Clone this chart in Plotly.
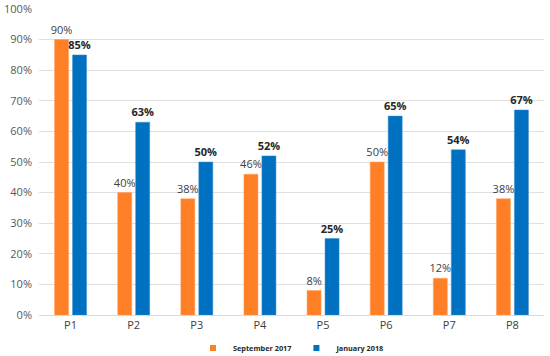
import plotly.graph_objects as go

categories = ["P1", "P2", "P3", "P4", "P5", "P6", "P7", "P8"]
sep_2017 = [90, 40, 38, 46, 8, 50, 12, 38]
jan_2018 = [85, 63, 50, 52, 25, 65, 54, 67]
sep_label = "September 2017"
jan_label = "January 2018"
y_ticks = [0, 10, 20, 30, 40, 50, 60, 70, 80, 90, 100]

FONT = "Open Sans, Liberation Sans, sans-serif"
ORANGE = "#FF7F27"
BLUE = "#0070C0"

fig = go.Figure()
fig.add_trace(go.Bar(
    x=categories, y=sep_2017, name=sep_label, showlegend=False,
    marker=dict(color=ORANGE, line=dict(color="#FFA05A", width=0.5)),
    text=[f"{v}%" for v in sep_2017], textposition="outside", constraintext="none",
    textfont=dict(family=FONT, size=11, color="#404040"),
    cliponaxis=False,
))
fig.add_trace(go.Bar(
    x=categories, y=jan_2018, name=jan_label, showlegend=False,
    marker=dict(color=BLUE, line=dict(color="#3A8FD0", width=0.5)),
    text=[f"<b>{v}%</b>" for v in jan_2018], textposition="outside", constraintext="none",
    textfont=dict(family=FONT, size=11, color="#262626"),
    cliponaxis=False,
))
# legend entries with small square swatches
for nm, col in [(sep_label, ORANGE), (jan_label, BLUE)]:
    fig.add_trace(go.Scatter(x=[None], y=[None], mode="markers", name=f"<b>{nm}</b>",
                             marker=dict(symbol="square", size=6, color=col)))

fig.update_layout(
    width=550, height=356,
    margin=dict(l=39, r=6, t=9, b=41, autoexpand=False),
    paper_bgcolor="white", plot_bgcolor="white",
    barmode="group", bargap=0.43, bargroupgap=0.22,
    font=dict(family=FONT, color="#595959"),
    showlegend=True,
    legend=dict(orientation="h", x=0.5, xanchor="center", y=-0.108, yanchor="middle",
                font=dict(family=FONT, size=7.3, color="#262626"),
                itemwidth=30, tracegroupgap=0, bgcolor="rgba(0,0,0,0)"),
)
fig.update_yaxes(range=[0, 100], tickvals=y_ticks, ticktext=[f"{v}%" for v in y_ticks],
                 showgrid=True, gridcolor="#E0E0E0", gridwidth=1,
                 zeroline=False, showline=False,
                 tickfont=dict(family=FONT, size=11, color="#595959"),
                 ticks="", ticklabelstandoff=6)
fig.update_xaxes(showline=True, linecolor="#D9D9D9", linewidth=1,
                 tickfont=dict(family=FONT, size=11, color="#404040"),
                 ticks="", showgrid=False, range=[-0.5, 7.5])

fig.write_html("out.html", config={"displayModeBar": False},
               post_script="document.body.style.margin='0';")
